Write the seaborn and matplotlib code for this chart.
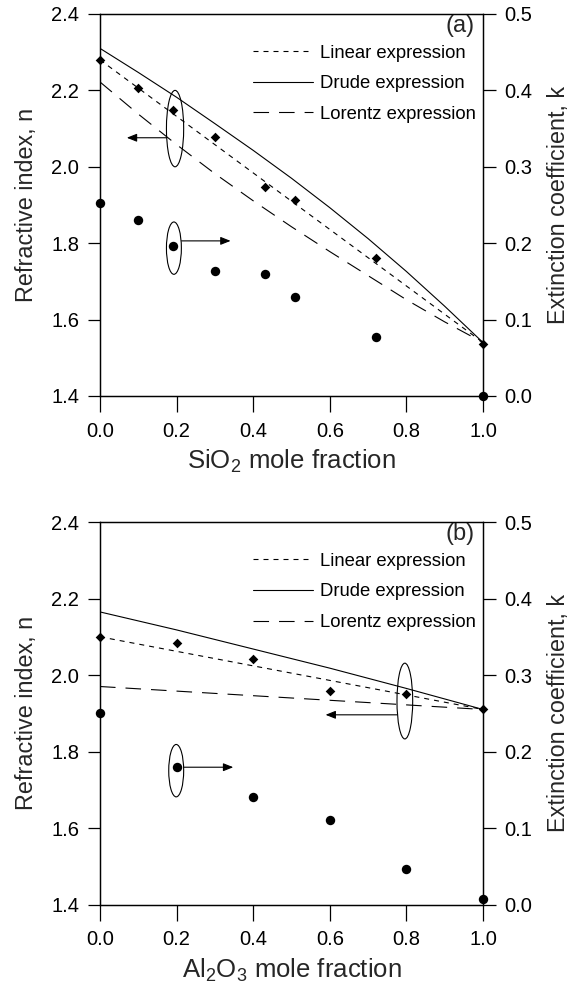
import matplotlib
matplotlib.use("Agg")
import matplotlib.pyplot as plt
import seaborn as sns
from matplotlib.patches import Ellipse

# (a) SiO2 system
sio2_x = [0.0, 0.10, 0.19, 0.30, 0.43, 0.51, 0.72, 1.0]
sio2_n = [2.279, 2.207, 2.148, 2.079, 1.948, 1.912, 1.760, 1.535]
sio2_k = [0.253, 0.230, 0.196, 0.164, 0.159, 0.130, 0.077, 0.0]

# (b) Al2O3 system
al2o3_x = [0.0, 0.2, 0.4, 0.6, 0.8, 1.0]
al2o3_n = [2.100, 2.085, 2.041, 1.958, 1.950, 1.910]
al2o3_k = [0.251, 0.180, 0.141, 0.111, 0.046, 0.007]

# model curves
curve_x = [0.0, 0.2, 0.4, 0.6, 0.8, 1.0]
curve_x_fine = [0.0, 0.1, 0.2, 0.3, 0.4, 0.5, 0.6, 0.7, 0.8, 0.9, 1.0]
sio2_linear = [2.280, 2.132, 1.984, 1.836, 1.688, 1.540]
sio2_drude = [2.310, 2.247, 2.182, 2.113, 2.043, 1.970, 1.893, 1.812, 1.726, 1.635, 1.540]
sio2_lorentz = [2.222, 2.138, 2.058, 1.982, 1.911, 1.843, 1.778, 1.715, 1.652, 1.594, 1.540]
al2o3_linear = [2.100, 2.062, 2.024, 1.986, 1.948, 1.910]
al2o3_drude = [2.165, 2.118, 2.068, 2.018, 1.965, 1.910]
al2o3_lorentz = [1.970, 1.958, 1.946, 1.934, 1.922, 1.910]

x_ticks = [0.0, 0.2, 0.4, 0.6, 0.8, 1.0]
n_ticks = [1.4, 1.6, 1.8, 2.0, 2.2, 2.4]
k_ticks = [0.0, 0.1, 0.2, 0.3, 0.4, 0.5]

sns.set_style("ticks")
plt.rcParams['font.family'] = ['Liberation Sans', 'DejaVu Sans']
plt.rcParams['mathtext.fontset'] = 'custom'
plt.rcParams['mathtext.rm'] = 'Liberation Sans'
plt.rcParams['mathtext.default'] = 'regular'

LW = 0.8
SHORT = (0, (4.5, 4.5))
LONG = (0, (14, 9))
TICK_FS = 14.5
LABEL_FS = 16.8


def draw_panel(ax, xs, n, k, lin, dru, lor, dru_x, lor_x, xlabel, tag, ellipses, arrows):
    sns.lineplot(x=curve_x, y=lin, ax=ax, color='k', lw=LW, linestyle=SHORT, label='Linear expression')
    sns.lineplot(x=dru_x, y=dru, ax=ax, color='k', lw=LW, label='Drude expression')
    sns.lineplot(x=lor_x, y=lor, ax=ax, color='k', lw=LW, linestyle=LONG, label='Lorentz expression')
    sns.scatterplot(x=xs, y=n, ax=ax, marker='D', s=24, color='k', linewidth=0, zorder=5, clip_on=False)

    ax.set_xlim(0, 1)
    ax.set_ylim(1.4, 2.4)
    ax.set_xticks(x_ticks)
    ax.set_yticks(n_ticks)
    ax.set_xticklabels([f"{v:.1f}" for v in x_ticks])
    ax.set_yticklabels([f"{v:.1f}" for v in n_ticks])
    ax.set_xlabel(xlabel, fontsize=18.5, labelpad=5.4)
    ax.set_ylabel('Refractive index, n', fontsize=LABEL_FS, labelpad=9.4)
    ax.tick_params(axis='x', direction='out', length=11.5, width=0.9, pad=7, labelsize=TICK_FS, colors='k')
    ax.tick_params(axis='y', direction='out', length=9, width=0.9, pad=6, labelsize=TICK_FS, colors='k')

    ax2 = ax.twinx()
    sns.scatterplot(x=xs, y=k, ax=ax2, marker='o', s=46, color='k', linewidth=0, zorder=5, clip_on=False)
    ax2.set_ylim(0, 0.5)
    ax2.set_yticks(k_ticks)
    ax2.set_yticklabels([f"{v:.1f}" for v in k_ticks])
    ax2.set_ylabel('Extinction coefficient, k', fontsize=LABEL_FS, labelpad=11)
    ax2.tick_params(axis='y', direction='out', length=9, width=0.9, pad=6, labelsize=TICK_FS, colors='k')

    for a in (ax, ax2):
        for sp in a.spines.values():
            sp.set_visible(True)
            sp.set_linewidth(0.9)
            sp.set_color('k')

    leg = ax.legend(loc='upper right', bbox_to_anchor=(0.982, 0.92), frameon=False,
                    fontsize=13.3, handlelength=3.24, handletextpad=0.38,
                    labelspacing=0.74, borderpad=0, borderaxespad=0)
    for t in leg.get_texts():
        t.set_color('k')

    ax.text(0.978, 0.997, tag, transform=ax.transAxes, ha='right', va='top', fontsize=17)

    for (cx, cy, w, h) in ellipses:
        ax.add_patch(Ellipse((cx, cy), w, h, fill=False, lw=LW, color='k', zorder=6))
    for (x0, y0, x1, y1) in arrows:
        ax.annotate('', xy=(x1, y1), xytext=(x0, y0),
                    arrowprops=dict(arrowstyle='-|>,head_length=0.5,head_width=0.2',
                                    lw=LW, color='k', shrinkA=0, shrinkB=0,
                                    mutation_scale=12))


fig = plt.figure(figsize=(5.74, 9.85), dpi=100)
ax_a = fig.add_axes([0.1742, 0.598, 0.6672, 0.3878])
ax_b = fig.add_axes([0.1742, 0.0817, 0.6672, 0.3883])

draw_panel(ax_a, sio2_x, sio2_n, sio2_k, sio2_linear, sio2_drude, sio2_lorentz,
           curve_x_fine, curve_x_fine,
           'SiO$_2$ mole fraction', '(a)',
           ellipses=[(0.196, 2.100, 0.045, 0.200), (0.193, 1.787, 0.039, 0.137)],
           arrows=[(0.174, 2.076, 0.070, 2.076), (0.213, 1.806, 0.341, 1.806)])

draw_panel(ax_b, al2o3_x, al2o3_n, al2o3_k, al2o3_linear, al2o3_drude, al2o3_lorentz,
           curve_x, curve_x,
           'Al$_2$O$_3$ mole fraction', '(b)',
           ellipses=[(0.796, 1.932, 0.041, 0.198), (0.199, 1.750, 0.039, 0.137)],
           arrows=[(0.776, 1.896, 0.589, 1.896), (0.219, 1.759, 0.348, 1.759)])

fig.savefig('out.png', dpi=100, facecolor='white')
